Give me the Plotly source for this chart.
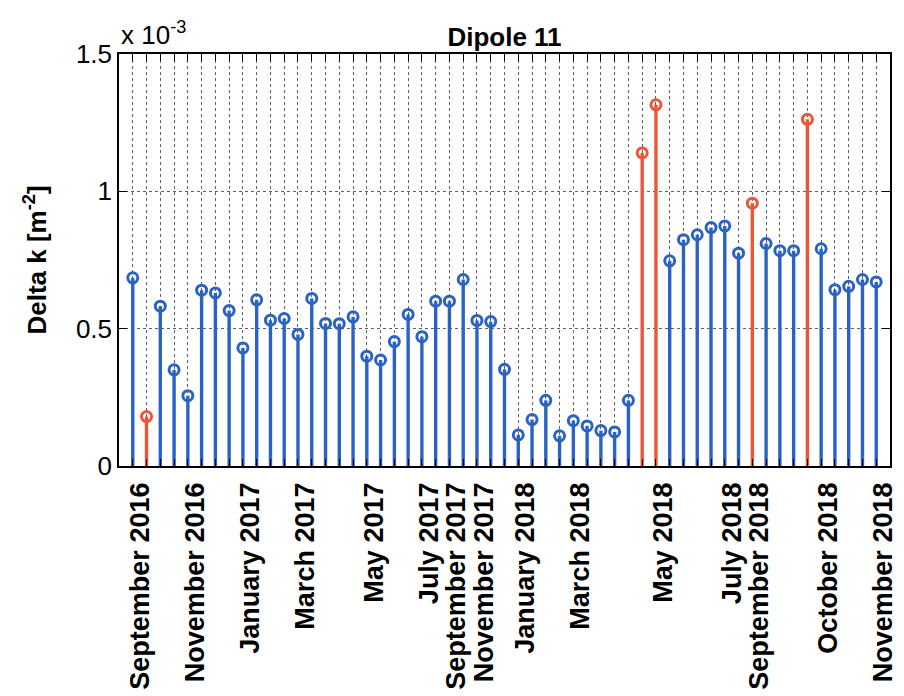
import plotly.graph_objects as go

# Delta k measurements for dipole 11, in units of 1e-3 m^-2 (one per survey)
delta_k = [
    0.685, 0.180, 0.582, 0.350, 0.256, 0.640, 0.630, 0.566, 0.430, 0.605,
    0.531, 0.537, 0.479, 0.610, 0.519, 0.518, 0.543, 0.400, 0.386, 0.453,
    0.552, 0.471, 0.600, 0.600, 0.679, 0.530, 0.526, 0.352, 0.113, 0.169,
    0.239, 0.110, 0.165, 0.146, 0.129, 0.124, 0.239, 1.140, 1.315, 0.747,
    0.824, 0.842, 0.868, 0.874, 0.775, 0.957, 0.810, 0.784, 0.784, 1.262,
    0.791, 0.642, 0.654, 0.679, 0.670,
]

# surveys (1-based) highlighted in red
flagged = [2, 38, 39, 46, 50]

# labelled surveys and their month labels
label_index = [1, 5, 9, 13, 18, 22, 24, 26, 29, 33, 39, 44, 46, 51, 55]
label_text = [
    "September 2016", "November 2016", "January 2017", "March 2017",
    "May 2017", "July 2017", "September 2017", "November 2017",
    "January 2018", "March 2018", "May 2018", "July 2018",
    "September 2018", "October 2018", "November 2018",
]

y_ticks = [0, 0.5, 1, 1.5]
y_tick_text = ["0", "0.5", "1", "1.5"]

BLUE = "#2a63c3"
RED = "#ee5535"
FONT = "Liberation Sans, Arial, Helvetica, sans-serif"

n = len(delta_k)
xs = list(range(1, n + 1))


def stems(idx):
    sx, sy = [], []
    for i in idx:
        sx += [xs[i], xs[i], None]
        sy += [0, delta_k[i], None]
    return sx, sy


normal = [i for i in range(n) if (i + 1) not in flagged]
marked = [i for i in range(n) if (i + 1) in flagged]

fig = go.Figure()
for idx, col in ((normal, BLUE), (marked, RED)):
    sx, sy = stems(idx)
    fig.add_trace(go.Scatter(
        x=sx, y=sy, mode="lines", line=dict(color=col, width=3.4),
        hoverinfo="skip", showlegend=False,
    ))
    fig.add_trace(go.Scatter(
        x=[xs[i] for i in idx], y=[delta_k[i] for i in idx], mode="markers",
        marker=dict(symbol="circle-open", size=10, color=col,
                    line=dict(color=col, width=3)),
        showlegend=False,
    ))

tick_text = [""] * n
for k, t in zip(label_index, label_text):
    tick_text[k - 1] = t

fig.update_layout(
    width=904, height=696,
    margin=dict(l=119, r=6, t=54, b=229),
    paper_bgcolor="white", plot_bgcolor="white",
    font=dict(family=FONT, color="black", size=26),
    title=dict(
        text="<b>Dipole 11</b>", x=0.5, xref="paper", xanchor="center",
        y=1, yref="paper", yanchor="bottom", pad=dict(b=8),
        font=dict(size=26, family=FONT),
    ),
    xaxis=dict(
        range=[0, n + 1], tickmode="array", tickvals=xs, ticktext=tick_text,
        tickangle=-90, ticks="inside", ticklen=7, tickcolor="black",
        showline=True, linecolor="black", linewidth=1.5, mirror="ticks",
        showgrid=True, gridcolor="rgba(40,40,60,0.75)", griddash="dot",
        gridwidth=1, zeroline=False, ticklabelshift=7, ticklabelstandoff=4,
        tickfont=dict(size=27, family=FONT, weight="bold"),
    ),
    yaxis=dict(
        range=[0, 1.5], tickmode="array", tickvals=y_ticks,
        ticktext=y_tick_text, ticks="inside", ticklen=8, tickcolor="black",
        showline=True, linecolor="black", linewidth=1.5, mirror="ticks",
        showgrid=True, gridcolor="rgba(40,40,60,0.75)", griddash="dot",
        gridwidth=1, zeroline=False,
        tickfont=dict(size=26, family=FONT),
        title=dict(text="<b>Delta k [m<sup>-2</sup>]</b>", standoff=22,
                   font=dict(size=26, family=FONT)),
    ),
    annotations=[dict(
        text="x 10<sup>-3</sup>", xref="paper", yref="paper",
        x=0, y=1, xanchor="left", yanchor="bottom", yshift=2,
        showarrow=False, font=dict(size=26, family=FONT),
    )],
)

fig.write_html("out.html")
